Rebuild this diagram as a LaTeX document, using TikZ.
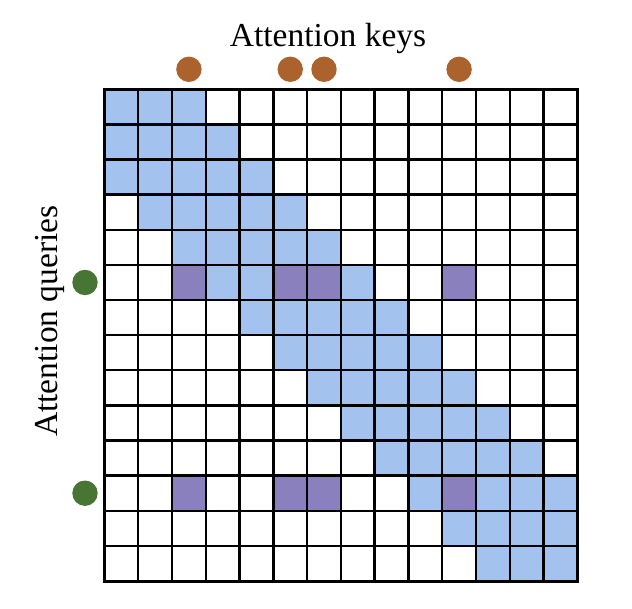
\documentclass[tikz,border=0pt]{standalone}
\usepackage{fontspec}
\setmainfont{Liberation Serif}
\definecolor{WindowBlue}{RGB}{164, 194, 238}
\definecolor{GlobalPurple}{RGB}{137, 128, 189}
\definecolor{KeyOrange}{RGB}{172, 98, 44}
\definecolor{QueryGreen}{RGB}{72, 116, 52}
\usetikzlibrary{positioning}

\begin{document}
\begin{tikzpicture}[
    x=33.77pt, y=-35.12pt,
    every node/.style={font=\fontsize{33.5pt}{38pt}\selectfont},
    gridline/.style={black, line width=2.4pt},
    keydot/.style={circle, fill=KeyOrange, minimum size=25.4pt, inner sep=0pt},
    querydot/.style={circle, fill=QueryGreen, minimum size=25.4pt, inner sep=0pt}
]
\useasboundingbox (-3.094,-2.543) rectangle (15.62,14.77);
% sliding window band
\begin{scope}
  \clip (0,0) rectangle (14,14);
  \foreach \r in {0,...,13}
    \foreach \d in {-2,...,2}
      \fill[WindowBlue] (\r+\d,\r) rectangle ++(1,1);
\end{scope}
% global attention cells
\foreach \r in {5,11}
  \foreach \c in {2,5,6,10}
    \fill[GlobalPurple] (\c,\r) rectangle ++(1,1);
% grid
\foreach \i in {0,...,14} {
  \draw[gridline] (\i,0) -- (\i,14);
  \draw[gridline] (0,\i) -- (14,\i);
}
\draw[gridline, line width=3pt] (0,0) rectangle (14,14);
% global keys and queries
\foreach \c in {2,5,6,10}
  \node[keydot] (key\c) at (\c+0.5,-0.57) {};
\foreach \r in {5,11}
  \node[querydot] (query\r) at (-0.577,\r+0.5) {};
\node[anchor=base] (keys) at (6.62,-1.23) {Attention keys};
\node[anchor=base, rotate=90] (queries) at (-1.38,6.6) {Attention queries};
\end{tikzpicture}
\end{document}
